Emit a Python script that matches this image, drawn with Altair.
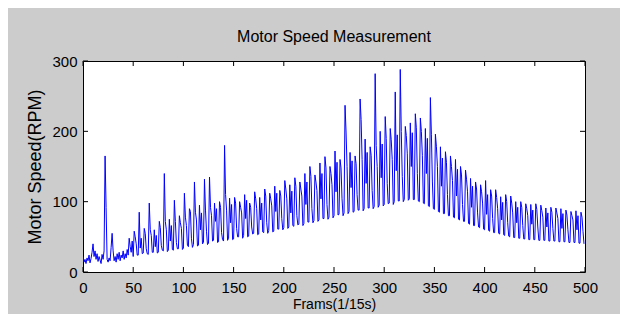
import altair as alt
import pandas as pd

# Motor speed (RPM) per frame
speed_000_099 = [
    22, 14, 18, 12, 20, 16, 24, 13, 19, 28,
    40, 22, 30, 18, 26, 15, 22, 17, 12, 25,
    18, 30, 165, 92, 18, 14, 20, 16, 35, 55,
    30, 16, 22, 14, 26, 18, 28, 16, 24, 20,
    30, 18, 26, 20, 32, 24, 48, 36, 28, 44,
    22, 58, 50, 40, 24, 24, 85, 34, 48, 26,
    27, 62, 55, 33, 26, 25, 98, 60, 52, 28,
    28, 60, 36, 52, 27, 28, 72, 63, 38, 31,
    30, 140, 72, 60, 29, 31, 75, 44, 66, 32,
    31, 102, 72, 42, 33, 33, 80, 70, 62, 32,
]
speed_100_199 = [
    34, 112, 78, 66, 38, 36, 90, 86, 48, 35,
    39, 128, 85, 74, 37, 38, 95, 60, 84, 40,
    42, 132, 88, 58, 39, 41, 135, 92, 80, 44,
    45, 98, 72, 90, 42, 43, 100, 92, 56, 46,
    44, 180, 110, 88, 45, 48, 105, 70, 96, 46,
    47, 106, 98, 62, 50, 50, 100, 92, 84, 48,
    52, 110, 76, 102, 50, 51, 98, 92, 64, 54,
    55, 114, 104, 90, 53, 54, 106, 74, 98, 57,
    56, 118, 108, 70, 55, 59, 112, 104, 94, 57,
    58, 122, 86, 112, 61, 61, 116, 108, 76, 60,
]
speed_200_299 = [
    63, 130, 118, 104, 62, 64, 124, 84, 115, 66,
    65, 134, 122, 80, 67, 68, 128, 118, 108, 66,
    69, 140, 96, 128, 71, 71, 150, 136, 90, 70,
    73, 138, 128, 116, 72, 74, 155, 104, 140, 76,
    76, 164, 148, 96, 75, 78, 150, 140, 124, 77,
    80, 172, 114, 156, 81, 82, 160, 148, 104, 80,
    84, 237, 199, 150, 83, 86, 170, 120, 158, 85,
    86, 165, 154, 110, 88, 88, 246, 217, 160, 87,
    90, 189, 126, 170, 91, 91, 178, 166, 116, 90,
    93, 282, 180, 150, 92, 95, 200, 134, 182, 94,
]
speed_300_399 = [
    96, 221, 190, 126, 97, 98, 204, 188, 160, 96,
    100, 256, 144, 195, 101, 101, 288, 200, 136, 100,
    103, 207, 194, 168, 102, 104, 212, 150, 198, 103,
    103, 225, 205, 140, 101, 100, 219, 200, 166, 98,
    97, 204, 140, 190, 94, 93, 248, 196, 128, 90,
    89, 196, 178, 150, 86, 85, 178, 122, 162, 83,
    83, 171, 156, 110, 80, 80, 165, 150, 130, 78,
    77, 160, 108, 146, 75, 74, 150, 138, 96, 72,
    72, 145, 132, 114, 69, 68, 133, 92, 122, 66,
    66, 128, 118, 84, 64, 63, 124, 114, 98, 61,
]
speed_400_499 = [
    60, 130, 82, 110, 59, 58, 117, 108, 76, 56,
    56, 117, 106, 90, 55, 54, 107, 74, 99, 53,
    52, 110, 100, 70, 51, 50, 108, 98, 84, 49,
    49, 100, 70, 92, 48, 48, 100, 92, 66, 47,
    47, 97, 90, 80, 46, 46, 96, 68, 88, 46,
    46, 97, 89, 64, 45, 45, 95, 87, 78, 45,
    45, 91, 64, 84, 44, 44, 92, 85, 62, 44,
    44, 91, 84, 76, 43, 43, 90, 62, 83, 43,
    43, 88, 81, 60, 42, 42, 86, 80, 74, 42,
    42, 87, 60, 80, 41, 41, 85, 78, 58, 40,
]

x_ticks = [0, 50, 100, 150, 200, 250, 300, 350, 400, 450, 500]
y_ticks = [0, 100, 200, 300]

speed = speed_000_099 + speed_100_199 + speed_200_299 + speed_300_399 + speed_400_499
df = pd.DataFrame({"frame": list(range(len(speed))), "speed": speed})
xt = pd.DataFrame({"frame": x_ticks})
yt = pd.DataFrame({"speed": y_ticks})

FONT = "Liberation Sans, Arial, Helvetica, sans-serif"
W, H = 502, 211
TL = 5

xscale = alt.Scale(domain=[0, 500], nice=False, zero=False)
yscale = alt.Scale(domain=[0, 300], nice=False)

xaxis = alt.Axis(values=x_ticks, title="Frams(1/15s)", tickSize=0, domain=False,
                 grid=False, labelFont=FONT, labelFontSize=15, labelColor="#000000",
                 labelPadding=8, titleFont=FONT, titleFontSize=14,
                 titleFontWeight="normal", titleColor="#000000", titlePadding=2,
                 labelFlush=False)
yaxis = alt.Axis(values=y_ticks, title="Motor Speed(RPM)", tickSize=0, domain=False,
                 grid=False, labelFont=FONT, labelFontSize=15, labelColor="#000000",
                 labelPadding=6, titleFont=FONT, titleFontSize=18,
                 titleFontWeight="normal", titleColor="#000000", titlePadding=7,
                 labelFlush=False)

X = alt.X("frame:Q", scale=xscale, axis=xaxis)
Y = alt.Y("speed:Q", scale=yscale, axis=yaxis)

line = alt.Chart(df).mark_line(color="#0000ff", strokeWidth=1, clip=True).encode(x=X, y=Y)

bottom_ticks = alt.Chart(xt).mark_rule(color="#000000", strokeWidth=1).encode(
    x=X, y=alt.value(H), y2=alt.value(H - TL))
top_ticks = alt.Chart(xt).mark_rule(color="#000000", strokeWidth=1).encode(
    x=X, y=alt.value(0), y2=alt.value(TL))
left_ticks = alt.Chart(yt).mark_rule(color="#000000", strokeWidth=1).encode(
    y=Y, x=alt.value(0), x2=alt.value(TL))
right_ticks = alt.Chart(yt).mark_rule(color="#000000", strokeWidth=1).encode(
    y=Y, x=alt.value(W - TL), x2=alt.value(W))

chart = alt.layer(line, bottom_ticks, top_ticks, left_ticks, right_ticks).properties(
    width=W, height=H,
    title=alt.TitleParams("Motor Speed Measurement", font=FONT, fontSize=16,
                          fontWeight="normal", color="#000000", offset=9),
    padding={"left": 75, "top": 53, "right": 35, "bottom": 42},
    autosize=alt.AutoSizeParams(type="none"),
    background="#cccccc",
).configure_view(stroke="#000000", strokeWidth=1, fill="#ffffff")

chart.save("out.html", embed_options={"renderer": "svg", "actions": False})
